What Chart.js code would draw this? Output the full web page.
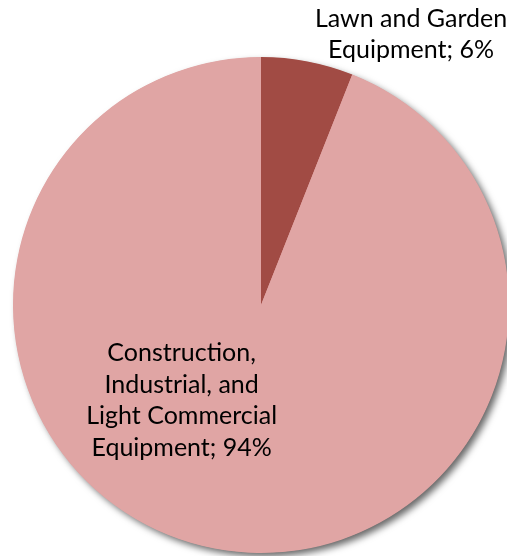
<!DOCTYPE html>
<html>
<head>
<meta charset="utf-8">
<script src="https://cdn.jsdelivr.net/npm/chart.js@4"></script>
<style>
  html, body { margin: 0; padding: 0; background: #fff; overflow: hidden; }
  #wrap { position: relative; width: 522px; height: 556px; }
</style>
</head>
<body>
<div id="wrap"><canvas id="pieChart"></canvas></div>
<script>
// --- DATA ---
const categories = ['Lawn and Garden Equipment', 'Construction, Industrial, and Light Commercial Equipment'];
const shares = [6, 94];
const wrappedNames = [
    ['Lawn and Garden', 'Equipment'],
    ['Construction,', 'Industrial, and', 'Light Commercial', 'Equipment']
];

const COLORS = ['#A14B44', '#E0A5A4'];

// label anchors, as fractions of the pie radius from its centre
const LABEL_ANCHORS = [
    { dx: 0.605, dy: -1.09 },
    { dx: -0.32, dy: 0.385 }
];

// soft grey drop shadow under the whole pie
const pieShadow = {
    id: 'pieShadow',
    beforeDatasetsDraw(chart) {
        const arc = chart.getDatasetMeta(0).data[0];
        if (!arc) return;
        const ctx = chart.ctx;
        ctx.save();
        ctx.shadowColor = 'rgba(0,0,0,0.6)';
        ctx.shadowBlur = 7;
        ctx.shadowOffsetX = 4;
        ctx.shadowOffsetY = 4;
        ctx.fillStyle = COLORS[1];
        ctx.beginPath();
        ctx.arc(arc.x, arc.y, arc.outerRadius - 0.5, 0, Math.PI * 2);
        ctx.fill();
        ctx.restore();
    }
};

// data labels "Name; NN%"
const pieLabels = {
    id: 'pieLabels',
    afterDatasetsDraw(chart) {
        const meta = chart.getDatasetMeta(0);
        const ctx = chart.ctx;
        const lineH = 31.5;
        ctx.save();
        ctx.font = '25px Lato, "Open Sans", sans-serif';
        ctx.fillStyle = '#000';
        ctx.textAlign = 'center';
        ctx.textBaseline = 'middle';
        meta.data.forEach((arc, i) => {
            const lines = wrappedNames[i].slice();
            lines[lines.length - 1] += '; ' + shares[i] + '%';
            const a = LABEL_ANCHORS[i];
            const x = arc.x + a.dx * arc.outerRadius;
            const y = arc.y + a.dy * arc.outerRadius;
            const top = y - (lines.length - 1) * lineH / 2;
            lines.forEach((t, k) => ctx.fillText(t, x, top + k * lineH));
        });
        ctx.restore();
    }
};

new Chart(document.getElementById('pieChart').getContext('2d'), {
    type: 'pie',
    data: {
        labels: categories,
        datasets: [{
            data: shares,
            backgroundColor: COLORS,
            borderWidth: 0
        }]
    },
    options: {
        responsive: true,
        maintainAspectRatio: false,
        animation: false,
        layout: { padding: { left: 13, right: 13, top: 57, bottom: 3 } },
        plugins: {
            legend: { display: false },
            tooltip: { enabled: false }
        }
    },
    plugins: [pieShadow, pieLabels]
});
</script>
</body>
</html>
